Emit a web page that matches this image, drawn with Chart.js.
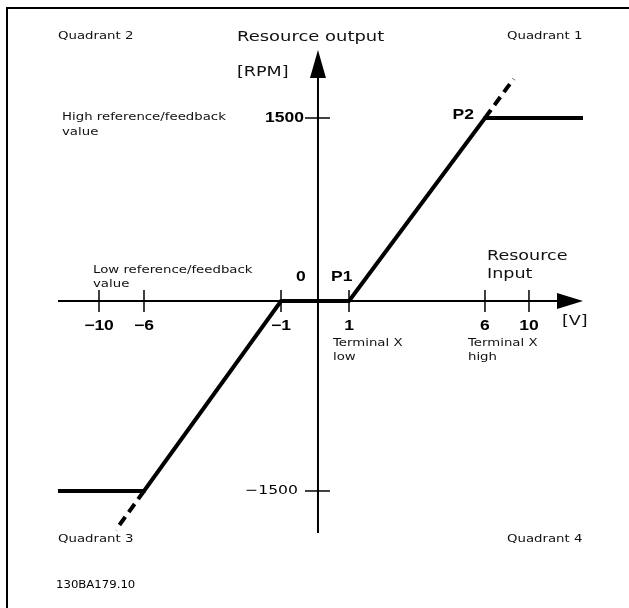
<!DOCTYPE html>
<html>
<head>
<meta charset="utf-8">
<title>Reference / feedback scaling</title>
<script src="https://cdn.jsdelivr.net/npm/chart.js@4/dist/chart.umd.min.js"></script>
<style>
  html, body { margin: 0; padding: 0; background: #fff; }
  #chart { display: block; }
</style>
</head>
<body>
<canvas id="chart" width="629" height="608"></canvas>
<script>
// Axis ticks and labels
const X_TICKS = [-10, -6, -1, 1, 6, 10];
const X_TICK_LABELS = ['\u221210', '\u22126', '\u22121', '1', '6', '10'];
const Y_TICKS = [-1500, 1500];
const Y_TICK_LABELS = ['\u22121500', '1500'];

// Axis extents (arrow ends)
const X_RANGE = [-13.6, 14.8];
const Y_RANGE = [-1832, 2057];

// Scaling curve: low clamp, ramp through P1 / P2, high clamp
const CURVE_X = [-13.6, -6, -1, 1, 6, 14.8];
const CURVE_Y = [-1500, -1500, 0, 0, 1500, 1500];

// Dashed extensions beyond the clamps
const EXT_HIGH_X = [6, 8.6];
const EXT_HIGH_Y = [1500, 1820];
const EXT_LOW_X = [-6, -8.5];
const EXT_LOW_Y = [-1500, -1808];

// The drawing is schematic: each axis is stretched piecewise
const WARPS = {
    x: { values: [-13.6, -10, -6, -1, 0, 1, 6, 10, 14.8],
         stops:  [0, 0.0781, 0.1638, 0.4248, 0.4952, 0.5543, 0.8133, 0.8971, 1] },
    y: { values: [-1832, -1500, 0, 1500, 2057],
         stops:  [0, 0.087, 0.4803, 0.8592, 1] }
};

function interp(v, from, to) {
    if (v <= from[0]) return to[0] + (v - from[0]) * (to[1] - to[0]) / (from[1] - from[0]);
    for (let i = 1; i < from.length; i++) {
        if (v <= from[i]) {
            const t = (v - from[i - 1]) / (from[i] - from[i - 1]);
            return to[i - 1] + t * (to[i] - to[i - 1]);
        }
    }
    const n = from.length - 1;
    return to[n] + (v - from[n]) * (to[n] - to[n - 1]) / (from[n] - from[n - 1]);
}

class WarpScale extends Chart.LinearScale {
    getPixelForValue(value) {
        const w = WARPS[this.id];
        const f = interp(value, w.values, w.stops);
        return this.isHorizontal() ? this.left + f * this.width : this.bottom - f * this.height;
    }
    getValueForPixel(pixel) {
        const w = WARPS[this.id];
        const f = this.isHorizontal() ? (pixel - this.left) / this.width : (this.bottom - pixel) / this.height;
        return interp(f, w.stops, w.values);
    }
}
WarpScale.id = 'warp';
WarpScale.defaults = {};
Chart.register(WarpScale);

function toPoints(xs, ys) {
    return xs.map((x, i) => ({ x: x, y: ys[i] }));
}

// Text drawn a little wider than the font, like the original artwork
function txt(ctx, s, x, y, opt) {
    opt = opt || {};
    const size = opt.size || 10;
    const family = opt.bold ? '"Liberation Sans", Arial, sans-serif' : '"DejaVu Sans", Verdana, sans-serif';
    ctx.save();
    ctx.font = (opt.bold ? 'bold ' : '') + size + 'px ' + family;
    ctx.fillStyle = opt.color || '#111';
    ctx.textAlign = opt.align || 'left';
    ctx.textBaseline = 'middle';
    ctx.translate(x, y);
    ctx.scale(opt.sx || 1.33, 1);
    ctx.fillText(s, 0, 0);
    ctx.restore();
}

const schematicAxes = {
    id: 'schematicAxes',
    beforeDatasetsDraw(chart) {
        const ctx = chart.ctx;
        const xs = chart.scales.x;
        const ys = chart.scales.y;
        const x0 = xs.getPixelForValue(0);
        const y0 = ys.getPixelForValue(0);
        const xEnd = xs.getPixelForValue(X_RANGE[1]);
        const yTop = ys.getPixelForValue(Y_RANGE[1]);

        ctx.save();
        ctx.strokeStyle = '#000';
        ctx.fillStyle = '#000';

        // frame
        ctx.fillRect(6, 7, chart.width, 2);
        ctx.fillRect(6, 7, 2, chart.height);

        // x axis with arrow
        ctx.lineWidth = 2;
        ctx.beginPath();
        ctx.moveTo(xs.getPixelForValue(X_RANGE[0]), y0);
        ctx.lineTo(xEnd - 24, y0);
        ctx.stroke();
        ctx.beginPath();
        ctx.moveTo(xEnd, y0);
        ctx.lineTo(xEnd - 26, y0 - 8);
        ctx.lineTo(xEnd - 26, y0 + 8);
        ctx.closePath();
        ctx.fill();

        // y axis with arrow
        ctx.beginPath();
        ctx.moveTo(x0, ys.getPixelForValue(Y_RANGE[0]));
        ctx.lineTo(x0, yTop + 24);
        ctx.stroke();
        ctx.beginPath();
        ctx.moveTo(x0, yTop);
        ctx.lineTo(x0 - 8, yTop + 28);
        ctx.lineTo(x0 + 8, yTop + 28);
        ctx.closePath();
        ctx.fill();

        // tick marks
        ctx.lineWidth = 1.5;
        X_TICKS.forEach(v => {
            const px = xs.getPixelForValue(v);
            ctx.beginPath();
            ctx.moveTo(px, y0 - 11);
            ctx.lineTo(px, y0 + 11);
            ctx.stroke();
        });
        Y_TICKS.forEach(v => {
            const py = ys.getPixelForValue(v);
            ctx.beginPath();
            ctx.moveTo(x0 - 13, py);
            ctx.lineTo(x0 + 12, py);
            ctx.stroke();
        });
        ctx.restore();
    },
    afterDatasetsDraw(chart) {
        const ctx = chart.ctx;
        const xs = chart.scales.x;
        const ys = chart.scales.y;
        const x0 = xs.getPixelForValue(0);
        const y0 = ys.getPixelForValue(0);

        // tick labels
        X_TICKS.forEach((v, i) => {
            txt(ctx, X_TICK_LABELS[i], xs.getPixelForValue(v), y0 + 25,
                { size: 14, bold: true, align: 'center', color: '#000', sx: 1.25 });
        });
        Y_TICKS.forEach((v, i) => {
            const bold = v > 0;
            txt(ctx, Y_TICK_LABELS[i], x0 - (bold ? 14 : 20), ys.getPixelForValue(v),
                { size: bold ? 14 : 12.5, bold: bold, align: 'right', color: '#000', sx: bold ? 1.25 : 1.25 });
        });

        // axis titles
        txt(ctx, 'Resource output', 237, 37, { size: 13.5, sx: 1.33 });
        txt(ctx, '[RPM]', 237, 72, { size: 13.5, sx: 1.3 });
        txt(ctx, 'Resource', 487, 256, { size: 13.5, sx: 1.3 });
        txt(ctx, 'Input', 487, 274, { size: 13.5, sx: 1.3 });
        txt(ctx, '[V]', 562, 321, { size: 13.5, sx: 1.3 });

        // curve points
        const p1x = xs.getPixelForValue(1);
        const p2x = xs.getPixelForValue(6);
        const p2y = ys.getPixelForValue(1500);
        txt(ctx, 'P2', p2x - 11, p2y - 3, { size: 14, bold: true, align: 'right', color: '#000', sx: 1.25 });
        txt(ctx, 'P1', p1x - 18, y0 - 24, { size: 14, bold: true, color: '#000', sx: 1.25 });
        txt(ctx, '0', x0 - 17, y0 - 24, { size: 14, bold: true, align: 'center', color: '#000', sx: 1.25 });

        // terminal notes
        txt(ctx, 'Terminal X', p1x - 16, y0 + 42);
        txt(ctx, 'low', p1x - 16, y0 + 56);
        txt(ctx, 'Terminal X', p2x - 17, y0 + 42);
        txt(ctx, 'high', p2x - 17, y0 + 56);

        // reference notes
        txt(ctx, 'High reference/feedback', 62, 117);
        txt(ctx, 'value', 62, 132);
        txt(ctx, 'Low reference/feedback', 93, 270);
        txt(ctx, 'value', 93, 284);

        // quadrants
        txt(ctx, 'Quadrant 2', 58, 36);
        txt(ctx, 'Quadrant 1', 507, 36);
        txt(ctx, 'Quadrant 3', 58, 539);
        txt(ctx, 'Quadrant 4', 507, 539);

        txt(ctx, '130BA179.10', 56, 585, { size: 10, sx: 1.17, color: '#000' });
    }
};

const solidStyle = {
    borderColor: '#000',
    borderWidth: 4,
    borderJoinStyle: 'miter',
    borderCapStyle: 'butt',
    pointRadius: 0,
    showLine: true,
    fill: false,
    tension: 0,
    clip: false
};

new Chart(document.getElementById('chart'), {
    type: 'scatter',
    data: {
        datasets: [
            Object.assign({ label: 'Scaling', data: toPoints(CURVE_X, CURVE_Y) }, solidStyle),
            Object.assign({ label: 'High extension', data: toPoints(EXT_HIGH_X, EXT_HIGH_Y), borderDash: [10, 6] }, solidStyle),
            Object.assign({ label: 'Low extension', data: toPoints(EXT_LOW_X, EXT_LOW_Y), borderDash: [10, 6] }, solidStyle)
        ]
    },
    options: {
        responsive: false,
        devicePixelRatio: 1,
        animation: false,
        events: [],
        layout: {
            padding: { left: 58, right: 46, top: 50, bottom: 75 }
        },
        plugins: {
            legend: { display: false },
            tooltip: { enabled: false }
        },
        scales: {
            x: { type: 'warp', display: false, min: X_RANGE[0], max: X_RANGE[1] },
            y: { type: 'warp', display: false, min: Y_RANGE[0], max: Y_RANGE[1] }
        }
    },
    plugins: [schematicAxes]
});
</script>
</body>
</html>
